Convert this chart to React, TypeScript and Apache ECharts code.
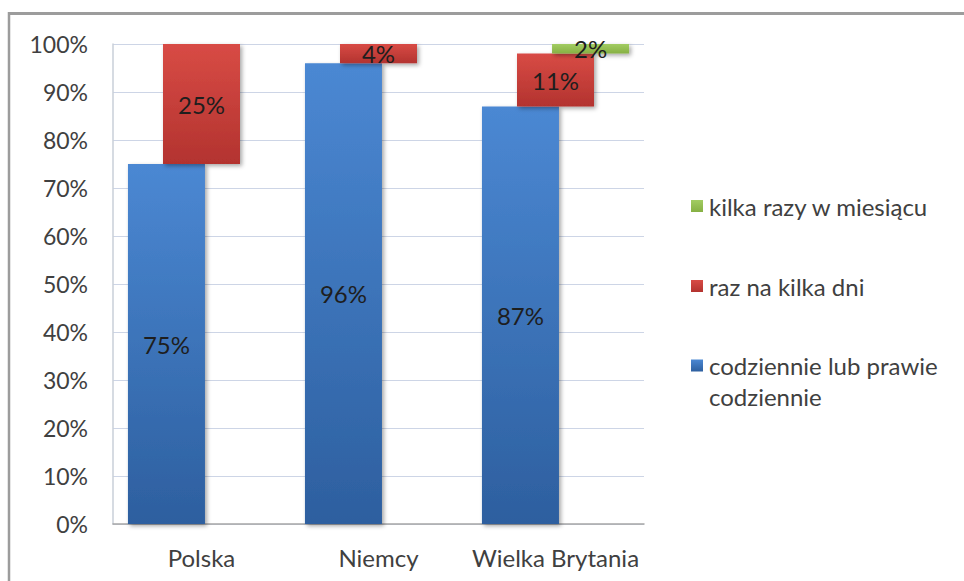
import React, { useEffect, useRef } from "react";
import * as echarts from "echarts";

const categories = ["Polska", "Niemcy", "Wielka Brytania"];
const dailyValues = [75, 96, 87];
const everyFewDaysValues = [25, 4, 11];
const fewTimesMonthValues = [0, 0, 2];
const seriesNames = ["codziennie lub prawie codziennie", "raz na kilka dni", "kilka razy w miesiącu"];

const FONT = 'Lato, "Open Sans", sans-serif';

const grad = (top: string, bottom: string) =>
  new echarts.graphic.LinearGradient(0, 0, 0, 1, [
    { offset: 0, color: top },
    { offset: 1, color: bottom },
  ]);

export default function App() {
  const ref = useRef<HTMLDivElement>(null);
  useEffect(() => {
    if (!ref.current) return;
    const chart = echarts.init(ref.current, undefined, { renderer: "svg" });
    const redBase = dailyValues.map((v) => v);
    const greenBase = dailyValues.map((v, i) => v + everyFewDaysValues[i]);
    const label = {
      show: true,
      position: "inside",
      fontSize: 24,
      fontFamily: FONT,
      color: "#1e1e1e",
      formatter: (p: any) => (p.value ? p.value + "%" : ""),
    };
    const shadow = {
      shadowBlur: 4,
      shadowColor: "rgba(0,0,0,0.35)",
      shadowOffsetX: 2,
      shadowOffsetY: 2,
    };
    const barW = 77;
    const gap = "-54.5%";
    const legendText = { fontSize: 24, fontFamily: FONT, color: "#404040", lineHeight: 31, padding: [0, 0, 0, 1] };
    chart.setOption({
      animation: false,
      backgroundColor: "#ffffff",
      grid: { left: 113, top: 44, width: 531, bottom: 57, containLabel: false },
      graphic: [
        { type: "line", shape: { x1: 9, y1: 13.5, x2: 964, y2: 13.5 }, style: { stroke: "#9c9c9c", lineWidth: 3 } },
        { type: "line", shape: { x1: 9, y1: 12, x2: 9, y2: 581 }, style: { stroke: "#9c9c9c", lineWidth: 2.5 } },
      ],
      legend: [
        {
          orient: "vertical",
          left: 686,
          top: 185.5,
          itemWidth: 12,
          itemHeight: 12,
          itemGap: 49,
          icon: "rect",
          selectedMode: false,
          data: [seriesNames[2], seriesNames[1]],
          textStyle: legendText,
        },
        {
          orient: "vertical",
          left: 686,
          top: 314,
          itemWidth: 12,
          itemHeight: 12,
          icon: "rect",
          selectedMode: false,
          data: [seriesNames[0]],
          formatter: () => "\ncodziennie lub prawie\ncodziennie",
          textStyle: legendText,
        },
      ],
      xAxis: {
        type: "category",
        data: categories,
        axisLine: { show: true, lineStyle: { color: "#a6a6a6", width: 1.5 } },
        axisTick: { show: false },
        axisLabel: { fontSize: 24, fontFamily: FONT, color: "#404040", margin: 21, interval: 0 },
      },
      yAxis: {
        type: "value",
        min: 0,
        max: 100,
        interval: 10,
        axisLine: { show: true, lineStyle: { color: "#c9cfd9", width: 1.5 } },
        axisTick: { show: false },
        axisLabel: { fontSize: 23, fontFamily: FONT, color: "#404040", margin: 25, formatter: "{value}%" },
        splitLine: { show: true, lineStyle: { color: "#cdd5e6", width: 1.2 } },
      },
      series: [
        {
          name: seriesNames[0],
          type: "bar",
          stack: "a",
          barWidth: barW,
          barGap: gap,
          data: dailyValues,
          itemStyle: { color: grad("#4b88d3", "#2d5f9f"), ...shadow },
          label,
        },
        {
          name: "base1",
          type: "bar",
          stack: "b",
          barWidth: barW,
          barGap: gap,
          silent: true,
          data: redBase,
          itemStyle: { color: "rgba(0,0,0,0)" },
        },
        {
          name: seriesNames[1],
          type: "bar",
          stack: "b",
          barWidth: barW,
          barGap: gap,
          data: everyFewDaysValues,
          itemStyle: { color: grad("#d84b45", "#b3332f"), ...shadow },
          label,
        },
        {
          name: "base2",
          type: "bar",
          stack: "c",
          barWidth: barW,
          barGap: gap,
          silent: true,
          data: greenBase,
          itemStyle: { color: "rgba(0,0,0,0)" },
        },
        {
          name: seriesNames[2],
          type: "bar",
          stack: "c",
          barWidth: barW,
          barGap: gap,
          data: fewTimesMonthValues,
          itemStyle: { color: grad("#a2cc62", "#86b043"), ...shadow },
          label,
        },
      ],
    });
    return () => chart.dispose();
  }, []);
  return (
    <div
      ref={ref}
      style={{ position: "absolute", left: 0, top: 0, width: 964, height: 581, background: "#fff" }}
    />
  );
}
